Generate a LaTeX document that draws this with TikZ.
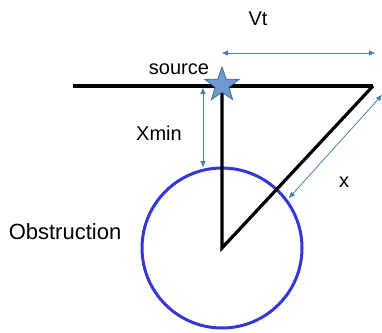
\documentclass[tikz,border=0pt]{standalone}
\usepackage{fontspec}
\setmainfont{Liberation Sans}
\usetikzlibrary{shapes.geometric,arrows.meta}
\definecolor{arrowblue}{HTML}{4A7DB8}
\definecolor{circblue}{HTML}{3636D8}
\definecolor{starfill}{HTML}{6C9AD2}
\definecolor{starline}{HTML}{4A6890}
\tikzset{
  thick line/.style={line width=3.2pt, black},
  dim arrow/.style={draw=arrowblue, line width=0.8pt, {Triangle[length=6pt,width=5pt]}-{Triangle[length=6pt,width=5pt]}, arrowblue},
  lbl/.style={font=\fontsize{20}{24}\selectfont, inner sep=0pt},
}
\begin{document}
\begin{tikzpicture}[x=1pt,y=-1pt]
\useasboundingbox (0,0) rectangle (382,332);
% geometry
\coordinate (lineL) at (73,86);
\coordinate (src) at (222,86);
\coordinate (apex) at (373,86);
\coordinate (ctr) at (222,248);
% obstruction circle
\node[circle, draw=circblue, line width=3pt, minimum size=160pt, inner sep=0pt] (obs) at (ctr) {};
% black lines
\draw[thick line] (lineL) -- (apex);
\draw[thick line, line join=miter] (src) -- (ctr) -- (apex);
% star at source
\node[star, star points=5, star point ratio=2.5, minimum size=36pt, inner sep=0pt,
      fill=starfill, draw=starline, line width=0.8pt] (star) at (222,85) {};
% dimension arrows
\coordinate (vtA) at (222,53);
\coordinate (vtB) at (375,53);
\draw[dim arrow] (vtA) -- (vtB);
\coordinate (xmA) at (203,88);
\coordinate (xmB) at (203,167);
\draw[dim arrow] (xmA) -- (xmB);
\coordinate (xA) at (289,198);
\coordinate (xB) at (382,95);
\draw[dim arrow] (xA) -- (xB);
% labels
\node[lbl] (vt) at (258,19) {Vt};
\node[lbl] (source) at (179,69) {source};
\node[lbl] (xmin) at (159,133) {Xmin};
\node[lbl] (xlab) at (344,182) {x};
\node[lbl, font=\fontsize{22}{26}\selectfont] (obstr) at (65,232) {Obstruction};
\end{tikzpicture}
\end{document}
